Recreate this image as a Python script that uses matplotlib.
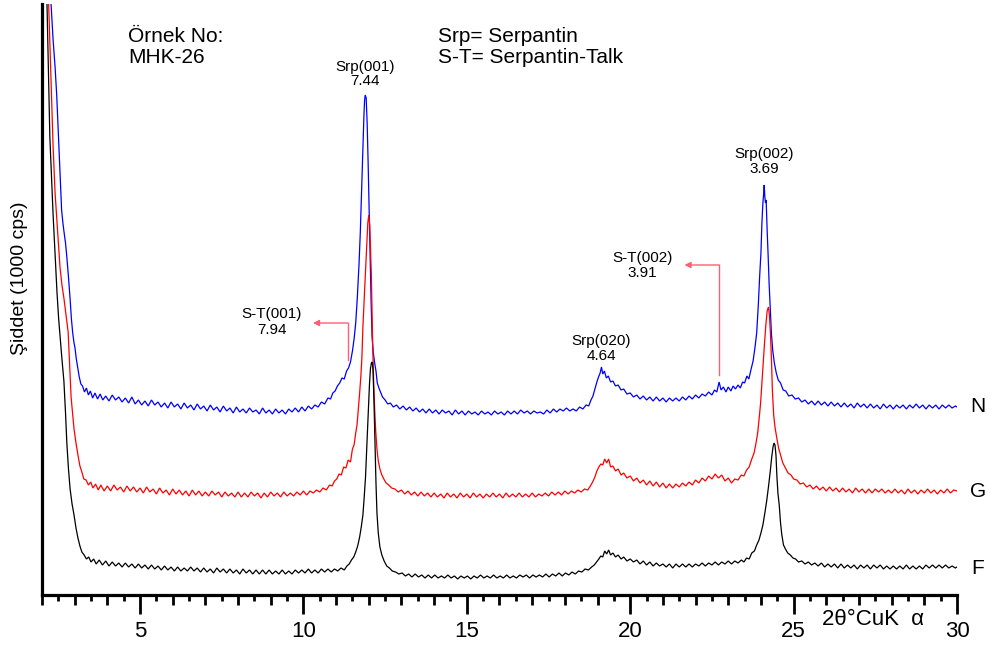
import numpy as np
import matplotlib
matplotlib.use("Agg")
import matplotlib.pyplot as plt

plt.rcParams['font.family'] = ['Liberation Sans', 'DejaVu Sans']

# Diffractogram traces: [2-theta (deg), intensity (offset, arbitrary units)]
N_TRACE = [
    [2.05, 900], [2.15, 760], [2.27, 595], [2.34, 555], [2.40, 528], [2.45, 500], [2.49, 470], [2.55, 425],
    [2.60, 385], [2.64, 372], [2.67, 364], [2.72, 352], [2.76, 338], [2.81, 318], [2.86, 296], [2.90, 276],
    [2.94, 262], [2.98, 252], [3.01, 247], [3.05, 236], [3.10, 226], [3.14, 218], [3.19, 211], [3.24, 209],
    [3.30, 203], [3.36, 207], [3.42, 200], [3.48, 204], [3.55, 197], [3.62, 202], [3.70, 196], [3.78, 201],
    [3.86, 195], [3.95, 199], [4.05, 194], [4.15, 200], [4.25, 195], [4.35, 198], [4.45, 193], [4.55, 197],
    [4.65, 192], [4.75, 198], [4.85, 191], [4.95, 195], [5.05, 190], [5.15, 194], [5.25, 189], [5.35, 195],
    [5.45, 190], [5.55, 193], [5.65, 188], [5.75, 192], [5.85, 187], [5.95, 193], [6.05, 188], [6.15, 191],
    [6.25, 186], [6.35, 192], [6.45, 187], [6.55, 190], [6.65, 185], [6.75, 191], [6.85, 186], [6.95, 189],
    [7.05, 184], [7.15, 190], [7.25, 185], [7.35, 188], [7.45, 183], [7.55, 189], [7.65, 184], [7.75, 187],
    [7.85, 182], [7.95, 188], [8.05, 183], [8.15, 186], [8.25, 182], [8.35, 187], [8.45, 183], [8.55, 185],
    [8.65, 181], [8.75, 187], [8.85, 182], [8.95, 185], [9.05, 181], [9.15, 186], [9.25, 182], [9.35, 185],
    [9.45, 181], [9.55, 186], [9.65, 183], [9.75, 187], [9.85, 183], [9.95, 188], [10.05, 184], [10.15, 189],
    [10.25, 186], [10.35, 190], [10.45, 188], [10.55, 193], [10.65, 191], [10.75, 197], [10.83, 196],
    [10.90, 202], [10.97, 204], [11.04, 209], [11.11, 212], [11.18, 217], [11.25, 216], [11.32, 224],
    [11.38, 227], [11.44, 233], [11.50, 244], [11.55, 256], [11.60, 272], [11.65, 298], [11.70, 330],
    [11.74, 362], [11.78, 405], [11.82, 448], [11.85, 478], [11.87, 494], [11.89, 500], [11.92, 497],
    [11.95, 472], [11.98, 432], [12.01, 385], [12.04, 340], [12.07, 295], [12.10, 258], [12.14, 242],
    [12.18, 232], [12.22, 224], [12.26, 212], [12.31, 207], [12.36, 203], [12.42, 198], [12.50, 195],
    [12.58, 191], [12.66, 192], [12.75, 188], [12.85, 190], [12.95, 186], [13.05, 189], [13.15, 185],
    [13.25, 188], [13.35, 184], [13.45, 187], [13.55, 183], [13.65, 186], [13.75, 182], [13.85, 186],
    [13.95, 182], [14.05, 185], [14.15, 181], [14.25, 185], [14.35, 182], [14.45, 184], [14.55, 180],
    [14.65, 185], [14.75, 181], [14.85, 184], [14.95, 180], [15.05, 184], [15.15, 181], [15.25, 183],
    [15.35, 180], [15.45, 184], [15.55, 181], [15.65, 183], [15.75, 180], [15.85, 184], [15.95, 181],
    [16.05, 183], [16.15, 180], [16.25, 184], [16.35, 181], [16.45, 184], [16.55, 181], [16.65, 185],
    [16.75, 182], [16.85, 184], [16.95, 181], [17.05, 184], [17.15, 182], [17.25, 183], [17.35, 181],
    [17.45, 185], [17.55, 182], [17.65, 186], [17.75, 183], [17.85, 186], [17.95, 184], [18.05, 187],
    [18.15, 184], [18.25, 186], [18.35, 184], [18.45, 188], [18.55, 186], [18.65, 190], [18.73, 189],
    [18.80, 195], [18.86, 199], [18.92, 206], [18.98, 213], [19.03, 218], [19.08, 222], [19.12, 228],
    [19.16, 221], [19.21, 224], [19.27, 217], [19.33, 219], [19.40, 213], [19.47, 214], [19.55, 209],
    [19.63, 210], [19.72, 205], [19.80, 206], [19.90, 201], [20.00, 202], [20.10, 198], [20.20, 200],
    [20.30, 196], [20.40, 199], [20.50, 195], [20.60, 198], [20.70, 194], [20.80, 198], [20.90, 194],
    [21.00, 197], [21.10, 193], [21.20, 197], [21.30, 194], [21.40, 197], [21.50, 194], [21.60, 198],
    [21.70, 195], [21.80, 199], [21.90, 196], [22.00, 200], [22.10, 197], [22.20, 201], [22.30, 199],
    [22.40, 203], [22.50, 200], [22.58, 205], [22.65, 203], [22.72, 213], [22.78, 205], [22.85, 208],
    [22.93, 203], [23.00, 208], [23.08, 204], [23.15, 209], [23.22, 206], [23.30, 210], [23.37, 207],
    [23.44, 213], [23.50, 212], [23.57, 219], [23.63, 216], [23.70, 226], [23.76, 234], [23.82, 248],
    [23.87, 262], [23.92, 290], [23.96, 318], [24.00, 342], [24.03, 372], [24.06, 392], [24.08, 400],
    [24.10, 410], [24.12, 398], [24.14, 392], [24.16, 395], [24.19, 365], [24.22, 340], [24.25, 312],
    [24.28, 290], [24.32, 262], [24.36, 245], [24.41, 232], [24.47, 222], [24.53, 215], [24.60, 212],
    [24.68, 205], [24.76, 204], [24.85, 199], [24.95, 200], [25.05, 196], [25.15, 197], [25.25, 193],
    [25.35, 195], [25.45, 191], [25.55, 194], [25.65, 190], [25.75, 194], [25.85, 190], [25.95, 193],
    [26.05, 189], [26.15, 193], [26.25, 189], [26.35, 192], [26.45, 188], [26.55, 192], [26.65, 188],
    [26.75, 191], [26.85, 187], [26.95, 192], [27.05, 188], [27.15, 191], [27.25, 187], [27.35, 191],
    [27.45, 187], [27.55, 190], [27.65, 186], [27.75, 191], [27.85, 187], [27.95, 190], [28.05, 186],
    [28.15, 190], [28.25, 187], [28.35, 190], [28.45, 186], [28.55, 190], [28.65, 187], [28.75, 191],
    [28.85, 187], [28.95, 190], [29.05, 186], [29.15, 190], [29.25, 187], [29.35, 190], [29.45, 186],
    [29.55, 190], [29.65, 187], [29.75, 190], [29.85, 187], [29.95, 189], [30.00, 188],
]

G_TRACE = [
    [2.05, 850], [2.12, 700], [2.20, 595], [2.27, 520], [2.34, 448], [2.40, 402], [2.46, 372], [2.51, 346],
    [2.55, 328], [2.61, 310], [2.67, 297], [2.73, 281], [2.80, 263], [2.85, 228], [2.89, 198], [2.94, 180],
    [2.98, 166], [3.04, 152], [3.10, 140], [3.16, 129], [3.22, 123], [3.28, 116], [3.35, 115], [3.42, 110],
    [3.49, 113], [3.56, 107], [3.64, 111], [3.72, 105], [3.80, 110], [3.90, 104], [4.00, 109], [4.10, 104],
    [4.20, 110], [4.30, 105], [4.40, 108], [4.50, 103], [4.60, 109], [4.70, 104], [4.80, 108], [4.90, 103],
    [5.00, 107], [5.10, 102], [5.20, 108], [5.30, 103], [5.40, 106], [5.50, 101], [5.60, 107], [5.70, 102],
    [5.80, 105], [5.90, 100], [6.00, 106], [6.10, 101], [6.20, 105], [6.30, 100], [6.40, 104], [6.50, 99],
    [6.60, 105], [6.70, 100], [6.80, 104], [6.90, 99], [7.00, 103], [7.10, 99], [7.20, 104], [7.30, 100],
    [7.40, 103], [7.50, 98], [7.60, 103], [7.70, 99], [7.80, 102], [7.90, 98], [8.00, 103], [8.10, 98],
    [8.20, 102], [8.30, 98], [8.40, 103], [8.50, 99], [8.60, 102], [8.70, 97], [8.80, 102], [8.90, 98],
    [9.00, 103], [9.10, 99], [9.20, 102], [9.30, 98], [9.40, 103], [9.50, 99], [9.60, 102], [9.70, 99],
    [9.80, 103], [9.90, 100], [10.00, 104], [10.10, 100], [10.20, 104], [10.30, 102], [10.40, 105],
    [10.50, 103], [10.60, 107], [10.70, 105], [10.80, 110], [10.88, 109], [10.95, 114], [11.02, 116],
    [11.09, 121], [11.16, 120], [11.23, 128], [11.30, 127], [11.37, 135], [11.44, 133], [11.50, 146],
    [11.55, 150], [11.60, 162], [11.64, 170], [11.68, 186], [11.72, 202], [11.76, 220], [11.79, 238],
    [11.82, 268], [11.85, 290], [11.88, 310], [11.91, 330], [11.94, 352], [11.97, 372], [12.00, 380],
    [12.03, 370], [12.05, 348], [12.08, 318], [12.10, 282], [12.12, 248], [12.15, 212], [12.18, 186],
    [12.21, 165], [12.25, 146], [12.29, 134], [12.34, 126], [12.40, 120], [12.46, 116], [12.53, 112],
    [12.61, 110], [12.70, 107], [12.80, 106], [12.90, 103], [13.00, 105], [13.10, 101], [13.20, 104],
    [13.30, 100], [13.40, 103], [13.50, 99], [13.60, 103], [13.70, 99], [13.80, 102], [13.90, 98],
    [14.00, 102], [14.10, 98], [14.20, 101], [14.30, 97], [14.40, 102], [14.50, 98], [14.60, 101],
    [14.70, 97], [14.80, 102], [14.90, 98], [15.00, 101], [15.10, 97], [15.20, 102], [15.30, 98],
    [15.40, 101], [15.50, 97], [15.60, 101], [15.70, 98], [15.80, 102], [15.90, 98], [16.00, 101],
    [16.10, 97], [16.20, 102], [16.30, 98], [16.40, 101], [16.50, 98], [16.60, 102], [16.70, 98],
    [16.80, 101], [16.90, 98], [17.00, 102], [17.10, 98], [17.20, 101], [17.30, 99], [17.40, 102],
    [17.50, 99], [17.60, 103], [17.70, 100], [17.80, 103], [17.90, 100], [18.00, 104], [18.10, 101],
    [18.20, 104], [18.30, 102], [18.40, 105], [18.50, 103], [18.60, 106], [18.70, 105], [18.78, 109],
    [18.85, 113], [18.92, 118], [18.98, 124], [19.04, 128], [19.10, 131], [19.16, 130], [19.22, 136],
    [19.28, 132], [19.34, 136], [19.40, 128], [19.47, 129], [19.55, 124], [19.63, 126], [19.72, 120],
    [19.80, 122], [19.90, 117], [20.00, 119], [20.10, 114], [20.20, 117], [20.30, 112], [20.40, 115],
    [20.50, 110], [20.60, 114], [20.70, 109], [20.80, 113], [20.90, 108], [21.00, 112], [21.10, 107],
    [21.20, 111], [21.30, 107], [21.40, 111], [21.50, 108], [21.60, 112], [21.70, 109], [21.80, 113],
    [21.90, 110], [22.00, 115], [22.10, 112], [22.20, 117], [22.30, 114], [22.40, 119], [22.50, 116],
    [22.60, 121], [22.70, 117], [22.80, 120], [22.90, 114], [23.00, 117], [23.10, 112], [23.20, 116],
    [23.30, 115], [23.40, 120], [23.48, 119], [23.56, 125], [23.64, 128], [23.72, 136], [23.79, 142],
    [23.85, 152], [23.90, 162], [23.95, 178], [23.99, 192], [24.03, 212], [24.07, 232], [24.11, 252],
    [24.15, 270], [24.19, 284], [24.23, 288], [24.26, 280], [24.29, 262], [24.32, 238], [24.35, 205],
    [24.39, 180], [24.43, 168], [24.48, 158], [24.54, 147], [24.60, 140], [24.67, 132], [24.75, 127],
    [24.83, 122], [24.92, 120], [25.00, 116], [25.10, 115], [25.20, 111], [25.30, 112], [25.40, 108],
    [25.50, 110], [25.60, 106], [25.70, 109], [25.80, 105], [25.90, 108], [26.00, 104], [26.10, 108],
    [26.20, 104], [26.30, 107], [26.40, 103], [26.50, 107], [26.60, 103], [26.70, 106], [26.80, 102],
    [26.90, 107], [27.00, 103], [27.10, 106], [27.20, 102], [27.30, 106], [27.40, 102], [27.50, 106],
    [27.60, 103], [27.70, 106], [27.80, 102], [27.90, 105], [28.00, 102], [28.10, 106], [28.20, 102],
    [28.30, 105], [28.40, 101], [28.50, 106], [28.60, 102], [28.70, 105], [28.80, 101], [28.90, 105],
    [29.00, 102], [29.10, 106], [29.20, 102], [29.30, 105], [29.40, 101], [29.50, 105], [29.60, 102],
    [29.70, 106], [29.80, 102], [29.90, 105], [30.00, 104],
]

F_TRACE = [
    [2.05, 800], [2.10, 690], [2.15, 595], [2.20, 520], [2.24, 458], [2.29, 420], [2.34, 380], [2.40, 340],
    [2.46, 302], [2.51, 276], [2.55, 260], [2.61, 236], [2.67, 214], [2.72, 182], [2.76, 152], [2.81, 126],
    [2.86, 106], [2.92, 91], [2.98, 80], [3.04, 67], [3.10, 57], [3.16, 49], [3.22, 43], [3.29, 40],
    [3.36, 36], [3.43, 38], [3.50, 33], [3.58, 36], [3.66, 31], [3.75, 35], [3.85, 30], [3.95, 34],
    [4.05, 29], [4.15, 33], [4.25, 29], [4.35, 32], [4.45, 28], [4.55, 32], [4.65, 28], [4.75, 31],
    [4.85, 27], [4.95, 31], [5.05, 27], [5.15, 30], [5.25, 26], [5.35, 30], [5.45, 26], [5.55, 29],
    [5.65, 25], [5.75, 29], [5.85, 25], [5.95, 28], [6.05, 24], [6.15, 28], [6.25, 24], [6.35, 27],
    [6.45, 24], [6.55, 28], [6.65, 24], [6.75, 27], [6.85, 23], [6.95, 27], [7.05, 23], [7.15, 26],
    [7.25, 22], [7.35, 27], [7.45, 23], [7.55, 26], [7.65, 22], [7.75, 26], [7.85, 22], [7.95, 25],
    [8.05, 21], [8.15, 26], [8.25, 22], [8.35, 25], [8.45, 21], [8.55, 25], [8.65, 21], [8.75, 25],
    [8.85, 21], [8.95, 25], [9.05, 21], [9.15, 24], [9.25, 21], [9.35, 25], [9.45, 21], [9.55, 24],
    [9.65, 21], [9.75, 25], [9.85, 22], [9.95, 25], [10.05, 22], [10.15, 26], [10.25, 22], [10.35, 25],
    [10.45, 22], [10.55, 26], [10.65, 23], [10.75, 26], [10.85, 23], [10.95, 26], [11.05, 24], [11.15, 27],
    [11.25, 25], [11.33, 29], [11.40, 31], [11.47, 35], [11.54, 38], [11.60, 43], [11.66, 49], [11.72, 58],
    [11.77, 68], [11.82, 80], [11.86, 98], [11.90, 118], [11.94, 148], [11.98, 180], [12.02, 210],
    [12.05, 226], [12.08, 232], [12.11, 233], [12.13, 224], [12.16, 192], [12.19, 150], [12.22, 112],
    [12.25, 82], [12.29, 62], [12.34, 48], [12.40, 40], [12.47, 34], [12.55, 29], [12.63, 27], [12.72, 24],
    [12.82, 23], [12.92, 21], [13.02, 22], [13.12, 19], [13.22, 21], [13.32, 18], [13.42, 21], [13.52, 18],
    [13.62, 20], [13.72, 17], [13.82, 20], [13.92, 17], [14.02, 20], [14.12, 17], [14.22, 19], [14.32, 17],
    [14.42, 20], [14.52, 17], [14.62, 19], [14.72, 16], [14.82, 19], [14.92, 17], [15.02, 19], [15.12, 16],
    [15.22, 19], [15.32, 17], [15.42, 20], [15.52, 17], [15.62, 19], [15.72, 17], [15.82, 20], [15.92, 17],
    [16.02, 19], [16.12, 17], [16.22, 20], [16.32, 17], [16.42, 19], [16.52, 17], [16.62, 20], [16.72, 18],
    [16.82, 20], [16.92, 17], [17.02, 20], [17.12, 18], [17.22, 20], [17.32, 18], [17.42, 21], [17.52, 18],
    [17.62, 21], [17.72, 19], [17.82, 22], [17.92, 19], [18.02, 22], [18.12, 20], [18.22, 23], [18.32, 21],
    [18.42, 24], [18.52, 23], [18.62, 26], [18.72, 25], [18.82, 28], [18.90, 30], [18.97, 33], [19.04, 36],
    [19.10, 39], [19.16, 38], [19.22, 44], [19.28, 41], [19.34, 45], [19.40, 40], [19.47, 42], [19.55, 38],
    [19.63, 40], [19.72, 36], [19.80, 38], [19.90, 34], [20.00, 36], [20.10, 33], [20.20, 35], [20.30, 31],
    [20.40, 34], [20.50, 30], [20.60, 33], [20.70, 29], [20.80, 32], [20.90, 29], [21.00, 31], [21.10, 28],
    [21.20, 31], [21.30, 27], [21.40, 31], [21.50, 28], [21.60, 31], [21.70, 28], [21.80, 31], [21.90, 28],
    [22.00, 31], [22.10, 29], [22.20, 32], [22.30, 29], [22.40, 32], [22.50, 30], [22.60, 33], [22.70, 30],
    [22.80, 33], [22.90, 31], [23.00, 34], [23.10, 31], [23.20, 34], [23.30, 32], [23.40, 35], [23.48, 33],
    [23.56, 37], [23.64, 36], [23.72, 42], [23.80, 44], [23.87, 50], [23.94, 55], [24.00, 62], [24.06, 70],
    [24.12, 82], [24.18, 95], [24.23, 108], [24.28, 122], [24.33, 138], [24.37, 148], [24.40, 152],
    [24.43, 150], [24.46, 140], [24.49, 118], [24.52, 102], [24.56, 90], [24.60, 72], [24.64, 60],
    [24.69, 50], [24.75, 46], [24.82, 42], [24.90, 40], [24.98, 37], [25.06, 36], [25.15, 33], [25.25, 34],
    [25.35, 31], [25.45, 33], [25.55, 30], [25.65, 32], [25.75, 29], [25.85, 32], [25.95, 28], [26.05, 31],
    [26.15, 28], [26.25, 31], [26.35, 27], [26.45, 31], [26.55, 27], [26.65, 30], [26.75, 27], [26.85, 30],
    [26.95, 26], [27.05, 30], [27.15, 27], [27.25, 30], [27.35, 26], [27.45, 30], [27.55, 27], [27.65, 30],
    [27.75, 26], [27.85, 29], [27.95, 26], [28.05, 29], [28.15, 26], [28.25, 29], [28.35, 26], [28.45, 30],
    [28.55, 26], [28.65, 29], [28.75, 26], [28.85, 29], [28.95, 26], [29.05, 30], [29.15, 27], [29.25, 30],
    [29.35, 27], [29.45, 30], [29.55, 27], [29.65, 30], [29.75, 27], [29.85, 29], [29.95, 27], [30.00, 28],
]

TRACE_NAMES = ["N", "G", "F"]
TRACE_COLORS = ["#0000ff", "#ff0000", "#000000"]

# Reflections labelled on the pattern: name and d-spacing (Angstrom)
PEAK_NAMES = ["Srp(001)", "Srp(020)", "Srp(002)"]
PEAK_D = [7.44, 4.64, 3.69]
ST_NAMES = ["S-T(001)", "S-T(002)"]
ST_D = [7.94, 3.91]

X_MAJOR = [5, 10, 15, 20, 25, 30]

CU_KALPHA = 1.5406


def two_theta(d):
    return 2 * np.degrees(np.arcsin(CU_KALPHA / (2 * d)))


W, H = 993, 652
fig = plt.figure(figsize=(W / 100, H / 100), dpi=100)
ax = fig.add_axes([42 / W, 57 / H, 915 / W, 591 / H])
ax.set_xlim(2, 30)
ax.set_ylim(0, 591)

for trace, color in zip([N_TRACE, G_TRACE, F_TRACE], TRACE_COLORS):
    arr = np.array(trace, dtype=float)
    ax.plot(arr[:, 0], arr[:, 1], color=color, lw=0.9, solid_joinstyle="miter")

# axes frame and ticks
for side in ("top", "right"):
    ax.spines[side].set_visible(False)
for side in ("left", "bottom"):
    ax.spines[side].set_linewidth(2.3)
ax.set_yticks([])
ax.set_xticks(X_MAJOR)
ax.set_xticks(np.arange(2, 31, 1), minor=True)
ax.tick_params(axis="x", which="major", direction="out", length=14, width=2.0,
               labelsize=16, pad=5)
ax.tick_params(axis="x", which="minor", direction="out", length=7.5, width=2.0)
half = ax.secondary_xaxis("bottom")
half.set_xticks(np.arange(2.5, 30, 1))
half.tick_params(direction="out", length=4.5, width=2.0, labelbottom=False)
half.spines["bottom"].set_visible(False)

# peak labels (centred on Bragg angles)
label_fs = 11
peak_y = [(524, 510), (250, 235), (437, 422)]
for name, d, (y1, y2) in zip(PEAK_NAMES, PEAK_D, peak_y):
    x = two_theta(d)
    ax.text(x, y1, name, ha="center", va="baseline", fontsize=label_fs)
    ax.text(x, y2, f"{d:.2f}", ha="center", va="baseline", fontsize=label_fs)

# serpentine-talc reflections with bent arrows
arrow_color = "#ff5f73"
st_text_x = [9.03, 20.38]
st_text_y = [(277, 261), (333, 318)]
st_line_x = [11.36, two_theta(ST_D[1])]
st_line_y = [(235, 272), (220, 330)]
st_head_x = [10.29, 21.66]
for name, d, tx, (ty1, ty2), lx, (ly0, ly1), hx in zip(
        ST_NAMES, ST_D, st_text_x, st_text_y, st_line_x, st_line_y, st_head_x):
    ax.text(tx, ty1, name, ha="center", va="baseline", fontsize=label_fs)
    ax.text(tx, ty2, f"{d:.2f}", ha="center", va="baseline", fontsize=label_fs)
    ax.plot([lx, lx], [ly0, ly1], color=arrow_color, lw=1.0)
    ax.annotate("", xy=(hx, ly1), xytext=(lx, ly1),
                arrowprops=dict(arrowstyle="-|>", color=arrow_color, lw=1.0,
                                mutation_scale=9, shrinkA=0, shrinkB=0))


def ftext(x, y, s, **kw):
    fig.text(x / W, 1 - y / H, s, **kw)


head_fs = 15
ftext(128, 42, "Örnek No:", fontsize=head_fs, va="baseline")
ftext(128, 63, "MHK-26", fontsize=head_fs, va="baseline")
ftext(438, 42, "Srp= Serpantin", fontsize=head_fs, va="baseline")
ftext(438, 63, "S-T= Serpantin-Talk", fontsize=head_fs, va="baseline")

for name, yb in zip(TRACE_NAMES, [412, 497, 574]):
    ftext(978, yb, name, fontsize=15, ha="center", va="baseline")

ftext(20, 278, "Şiddet (1000 cps)", fontsize=14, rotation=90, ha="center", va="center")
ftext(822, 625, "2θ°CuK  α", fontsize=16, va="baseline")

fig.savefig("out.png", dpi=100)
